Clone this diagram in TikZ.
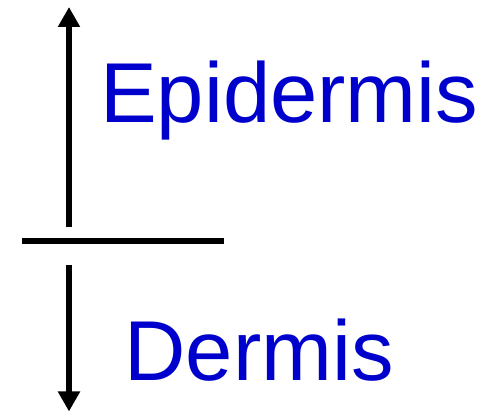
\documentclass[tikz,border=0pt]{standalone}
\usepackage{fontspec}
\setmainfont{Liberation Sans}
\usetikzlibrary{arrows.meta}
\definecolor{labelblue}{RGB}{0,0,204}
\tikzset{
  axisarrow/.style={line width=6.5pt,-{Triangle[width=21pt,length=20pt]}},
  divider/.style={line width=5.7pt},
  layerlabel/.style={text=labelblue,font=\fontsize{85}{90}\selectfont,inner sep=0pt,anchor=base west}
}
\begin{document}
\begin{tikzpicture}[x=1pt,y=1pt]
\useasboundingbox (0,0) rectangle (487,412);
\coordinate (upstart) at (69,184.7);
\coordinate (uptip) at (69,405);
\coordinate (downstart) at (69,147);
\coordinate (downtip) at (69,0.5);
\coordinate (divl) at (22,171);
\coordinate (divr) at (224,171);
\draw[axisarrow] (upstart) -- (uptip);
\draw[axisarrow] (downstart) -- (downtip);
\draw[divider] (divl) -- (divr);
\node[layerlabel] (epi) at (100,289.3) {Epidermis};
\node[layerlabel] (der) at (124.3,31) {Dermis};
\end{tikzpicture}
\end{document}
